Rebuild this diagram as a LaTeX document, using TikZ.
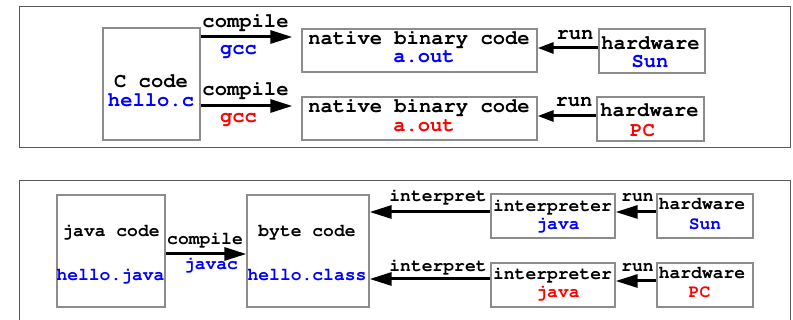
\documentclass[tikz,border=0pt]{standalone}
\usepackage[T1]{fontenc}
\usepackage{courier}
\usetikzlibrary{arrows.meta}
\definecolor{tblue}{RGB}{0,0,255}
\definecolor{tred}{RGB}{255,0,0}
\begin{document}
\begin{tikzpicture}[x=1pt,y=-1pt,
  frame/.style={draw=black!65,line width=1pt},
  box/.style={draw=black!45,line width=1.3pt,inner sep=0pt,rectangle},
  big/.style={font=\ttfamily\bfseries\fontsize{20.5}{22}\selectfont,anchor=base,inner sep=0pt},
  small/.style={font=\ttfamily\bfseries\fontsize{18}{20}\selectfont,anchor=base,inner sep=0pt},
  arr/.style={line width=3pt,-{Triangle[length=22pt,width=13pt]}},
  arrs/.style={line width=3pt,-{Triangle[length=16pt,width=11pt]}}]
\useasboundingbox (0,0) rectangle (793,320);

% frames
\draw[frame] (19,7) rectangle (790,148);
\draw[frame] (19,330) -- (19,181) -- (790,181) -- (790,330);

% ---------- C toolchain ----------
\node[box,minimum width=97pt,minimum height=112pt] (ccode) at (151.5,84) {};
\node[box,minimum width=235pt,minimum height=43pt] (nat1) at (419.5,50.5) {};
\node[box,minimum width=235pt,minimum height=43pt] (nat2) at (419.5,118.5) {};
\node[box,minimum width=106pt,minimum height=44pt] (hw1) at (652,51) {};
\node[box,minimum width=107pt,minimum height=44pt] (hw2) at (650.5,119) {};

\node[big] (tc1) at (151,88) {C code};
\node[big,text=tblue] (tc2) at (151,107) {hello.c};
\node[big] (tn1) at (419,45) {native binary code};
\node[big,text=tblue] (tn2) at (424,63) {a.out};
\node[big] (tn3) at (419,113) {native binary code};
\node[big,text=tred] (tn4) at (424,132) {a.out};
\node[big] (th1) at (650.5,50) {hardware};
\node[big,text=tblue] (th2) at (650,68) {Sun};
\node[big] (th3) at (649.5,117) {hardware};
\node[big,text=tred] (th4) at (642.5,137) {PC};

\coordinate (ya) at (0,37);
\coordinate (yb) at (0,106);
\coordinate (yc) at (0,48);
\coordinate (yd) at (0,116);
\draw[arr,shorten >=9pt] (ccode.east |- ya) -- (nat1.west |- ya);
\draw[arr,shorten >=9pt] (ccode.east |- yb) -- (nat2.west |- yb);
\draw[arrs] (hw1.west |- yc) -- (nat1.east |- yc);
\draw[arrs] (hw2.west |- yd) -- (nat2.east |- yd);

\node[big] (lc1) at (245.5,28) {compile};
\node[big,text=tblue] (lg1) at (238.5,55) {gcc};
\node[big] (lc2) at (245.5,96) {compile};
\node[big,text=tred] (lg2) at (238.5,123) {gcc};
\node[big] (lr1) at (575,40) {run};
\node[big] (lr2) at (574,107) {run};

% ---------- Java toolchain ----------
\node[box,minimum width=108pt,minimum height=112pt] (jcode) at (111,251) {};
\node[box,minimum width=122pt,minimum height=112pt] (bcode) at (308,251) {};
\node[box,minimum width=124pt,minimum height=44pt] (ip1) at (553,216) {};
\node[box,minimum width=124pt,minimum height=44pt] (ip2) at (553,285) {};
\node[box,minimum width=96pt,minimum height=44pt] (hb1) at (705,216) {};
\node[box,minimum width=96pt,minimum height=44pt] (hb2) at (705,285) {};

\node[small] (tj1) at (111,237) {java code};
\node[small,text=tblue] (tj2) at (110.5,281) {hello.java};
\node[small] (tb1) at (307,237) {byte code};
\node[small,text=tblue] (tb2) at (307,281) {hello.class};
\node[small] (ti1) at (552.5,212) {interpreter};
\node[small,text=tblue] (ti2) at (558,230) {java};
\node[small] (ti3) at (552.5,280) {interpreter};
\node[small,text=tred] (ti4) at (558,298) {java};
\node[small] (thb1) at (702,210) {hardware};
\node[small,text=tblue] (thb2) at (705,230) {Sun};
\node[small] (thb3) at (702,279) {hardware};
\node[small,text=tred] (thb4) at (699.5,298) {PC};

\coordinate (ye) at (0,254);
\coordinate (yf) at (0,212);
\coordinate (yg) at (0,279);
\coordinate (yh) at (0,281);
\draw[arr] (jcode.east |- ye) -- (bcode.west |- ye);
\draw[arr] (ip1.west |- yf) -- (bcode.east |- yf);
\draw[arr] (ip2.west |- yg) -- (bcode.east |- yg);
\draw[arr] (hb1.west |- yf) -- (ip1.east |- yf);
\draw[arr] (hb2.west |- yh) -- (ip2.east |- yh);

\node[small] (lc3) at (205,245) {compile};
\node[small,text=tblue] (lj) at (211,270) {javac};
\node[small] (li1) at (438,202) {interpret};
\node[small] (li2) at (438,272) {interpret};
\node[small] (lr3) at (637.5,202) {run};
\node[small] (lr4) at (637.5,272) {run};
\end{tikzpicture}
\end{document}
